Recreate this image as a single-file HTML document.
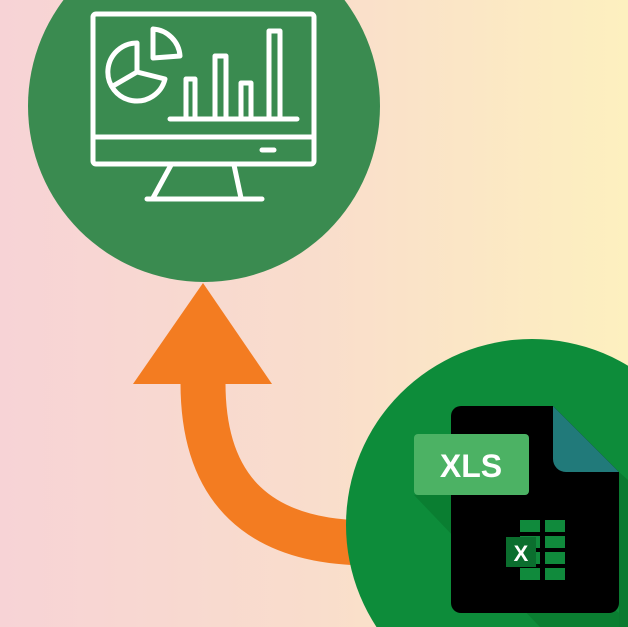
<!DOCTYPE html>
<html><head><style>
html,body{margin:0;padding:0;overflow:hidden}
body{width:628px;height:627px;overflow:hidden;background:linear-gradient(90deg,#f7d3d6 0%,#f9ddcc 50%,#fdf0bf 100%)}
svg{display:block}
</style></head><body>
<svg width="628" height="627" viewBox="0 0 628 627" xmlns="http://www.w3.org/2000/svg">
<circle cx="204" cy="106" r="176" fill="#3a8b50"/>
<g fill="none" stroke="#fff" stroke-width="5" stroke-linecap="round" stroke-linejoin="round">
<rect x="93" y="14" width="221" height="150" rx="3"/>
<line x1="93" y1="137" x2="314" y2="137"/>
<line x1="262" y1="150" x2="274" y2="150"/>
<path d="M171 165 L153 198 M234 165 L241 198"/>
<line x1="147" y1="199" x2="262" y2="199"/>
<line x1="170" y1="119" x2="297" y2="119"/>
<path d="M186 119 V79 H195 V119 M215 119 V56 H226 V119 M241 119 V83 H251 V119 M269 119 V31 H280 V119"/>
<path d="M137 72 L137 43 A29 29 0 1 0 165 79 Z"/>
<line x1="137" y1="72" x2="113" y2="86"/>
<path d="M153 58 L153 29 A29 29 0 0 1 180 56 Z"/>
</g>
<path d="M203 383 Q203 543 370 543" fill="none" stroke="#f37c21" stroke-width="45"/>
<polygon points="203,283 133,384 272,384" fill="#f37c21"/>
<circle cx="532" cy="525" r="186" fill="#0d8c3a"/>
<polygon points="414,495 470,495 619,613 619,627 540,627" fill="#0a7a30" opacity="0.8"/>
<polygon points="619,472 628,480 628,627 619,627" fill="#0a7a30"/>
<path d="M461 406 H553 L619 472 V603 A10 10 0 0 1 609 613 H461 A10 10 0 0 1 451 603 V416 A10 10 0 0 1 461 406 Z" fill="#000"/>
<path d="M553 406 L619 472 H566 A13 13 0 0 1 553 459 Z" fill="#217a7a"/>
<rect x="414" y="434" width="115" height="61" rx="4" fill="#4cb264"/>
<text x="471" y="477" text-anchor="middle" font-family="Liberation Sans, sans-serif" font-weight="bold" font-size="32" fill="#fff">XLS</text>
<g fill="#108a3c">
<rect x="520" y="520" width="20" height="12"/><rect x="545" y="520" width="20" height="12"/>
<rect x="520" y="536" width="20" height="12"/><rect x="545" y="536" width="20" height="12"/>
<rect x="520" y="552" width="20" height="12"/><rect x="545" y="552" width="20" height="12"/>
<rect x="520" y="568" width="20" height="12"/><rect x="545" y="568" width="20" height="12"/>
<rect x="506" y="537" width="30" height="30" fill="#0b6e2e"/>
</g>
<text x="521" y="561" text-anchor="middle" font-family="Liberation Sans, sans-serif" font-weight="bold" font-size="22" fill="#fff">X</text>
</svg>
</body></html>
